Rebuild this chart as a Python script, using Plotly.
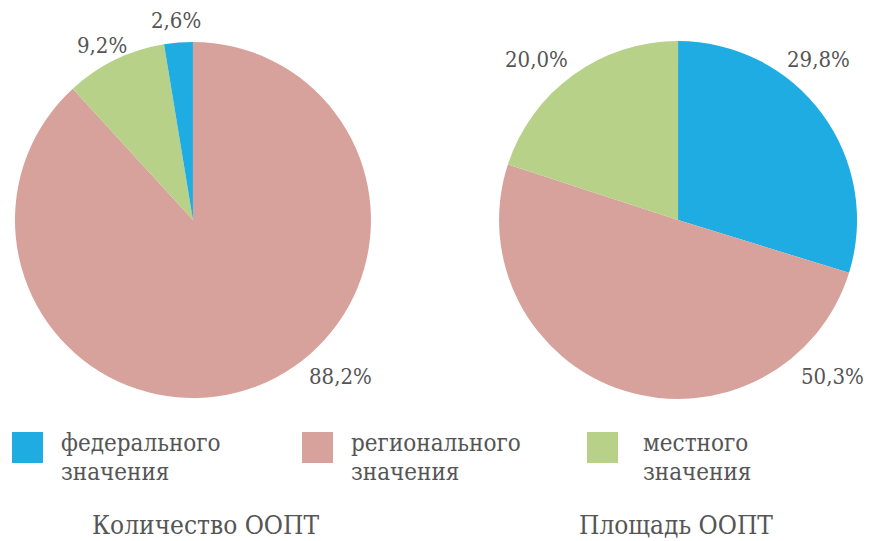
import plotly.graph_objects as go

categories = ["федерального<br>значения", "регионального<br>значения", "местного<br>значения"]
count_share = [2.6, 88.2, 9.2]
area_share = [29.8, 50.3, 20.0]
titles = ["Количество ООПТ", "Площадь ООПТ"]
colors = ["#1eace2", "#d8a29c", "#b7d189"]

FONT = "DejaVu Serif Condensed, DejaVu Serif, serif"
TXT = "#555555"

fig = go.Figure()
# pie 1: clockwise from top: regional, local, federal
order1 = [1, 2, 0]
fig.add_trace(go.Pie(
    values=[count_share[i] for i in order1],
    labels=[categories[i] for i in order1],
    marker=dict(colors=[colors[i] for i in order1], line=dict(color="white", width=0)),
    sort=False, direction="clockwise", rotation=0, textinfo="none",
    hoverinfo="label+value",
    domain=dict(x=[0.0172, 0.4264], y=[0.2643, 0.9224]),
    showlegend=False,
))
fig.add_trace(go.Pie(
    values=area_share,
    labels=categories,
    marker=dict(colors=colors, line=dict(color="white", width=0)),
    sort=False, direction="clockwise", rotation=0, textinfo="none",
    hoverinfo="label+value",
    domain=dict(x=[0.5736, 0.9851], y=[0.2625, 0.9242]),
    showlegend=False,
))

def fmt(v):
    return f"{v:.1f}".replace(".", ",") + "%"

# percentage labels (pixel anchors)
pos1 = [(176, 20), (340, 376), (102, 46)]   # federal, regional, local
pos2 = [(818, 59), (832, 376), (536, 59)]
annotations = []
for vals, pos in ((count_share, pos1), (area_share, pos2)):
    for v, (px, py) in zip(vals, pos):
        annotations.append(dict(
            x=px / 870, y=1 - py / 541, xref="paper", yref="paper",
            text=fmt(v), showarrow=False, xanchor="center", yanchor="middle",
            font=dict(family=FONT, size=22, color=TXT)))

# legend
leg_sq_x = [12, 302, 587]
leg_txt_x = [59, 349, 641]
shapes = []
for i, cat in enumerate(categories):
    x0 = leg_sq_x[i]
    shapes.append(dict(type="rect", xref="paper", yref="paper",
                       x0=x0 / 870, x1=(x0 + 31) / 870,
                       y0=1 - 463 / 541, y1=1 - 432 / 541,
                       fillcolor=colors[i], line=dict(width=0)))
    for j, line in enumerate(cat.split("<br>")):
        annotations.append(dict(
            x=leg_txt_x[i] / 870, y=1 - (443 + 29 * j) / 541, xref="paper", yref="paper",
            text=line, showarrow=False, xanchor="left", yanchor="middle", align="left",
            font=dict(family=FONT, size=24, color=TXT)))

# titles
for t, cx in zip(titles, [205, 676]):
    annotations.append(dict(
        x=cx / 870, y=1 - 525 / 541, xref="paper", yref="paper",
        text=t, showarrow=False, xanchor="center", yanchor="middle",
        font=dict(family=FONT, size=26, color=TXT)))

fig.update_layout(
    width=870, height=541,
    margin=dict(l=0, r=0, t=0, b=0),
    paper_bgcolor="white", plot_bgcolor="white",
    annotations=annotations, shapes=shapes,
)
fig.write_html("out.html")
